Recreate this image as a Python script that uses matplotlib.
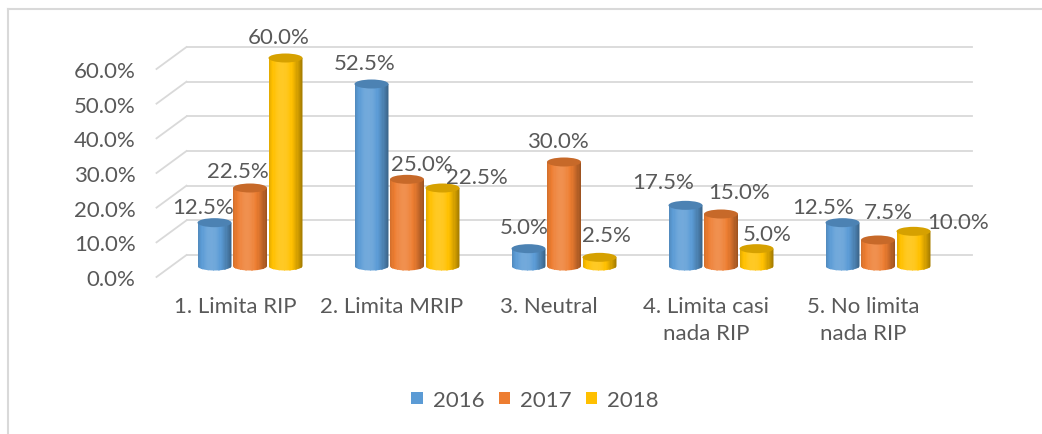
import numpy as np
import matplotlib
matplotlib.use("Agg")
import matplotlib.pyplot as plt
from matplotlib.patches import Rectangle, Ellipse, PathPatch, Patch
from matplotlib.path import Path
from matplotlib.lines import Line2D

# data (percent)
categories = ["1. Limita RIP", "2. Limita MRIP", "3. Neutral",
              "4. Limita casi\nnada RIP", "5. No limita\nnada RIP"]
years = ["2016", "2017", "2018"]
v2016 = [12.5, 52.5, 5.0, 17.5, 12.5]
v2017 = [22.5, 25.0, 30.0, 15.0, 7.5]
v2018 = [60.0, 22.5, 2.5, 5.0, 10.0]
series = [v2016, v2017, v2018]
yticks = [0, 10, 20, 30, 40, 50, 60]

colors = ["#5B9BD5", "#ED7D31", "#FFC000"]
text_col = "#595959"
grid_col = "#d9d9d9"

# label nudges in pixels (dx right, dy up) from the top of each cylinder
label_dx = [[-11.5, -6.5, -4.5, -22.5, -19.5],
            [-12, 15, -6, 18, 10],
            [-6.5, 34.5, 6.5, 10.5, 44.5]]
label_dy = [[16, 21, 22, 23, 16],
            [17, 15, 21, 22, 28],
            [21, 11, 22, 15, 9]]

plt.rcParams['font.family'] = ['Lato', 'DejaVu Sans']
FS = 16

W, H = 1042, 435
fig = plt.figure(figsize=(W / 100, H / 100), dpi=100)
fig.patch.set_facecolor("white")

PPX = 157.0          # pixels per category
PPY = 208.0 / 60.0   # pixels per percent


def px_axes(left, top, right, bottom):
  ax = fig.add_axes([left / W, 1 - bottom / H, (right - left) / W, (bottom - top) / H])
  ax.set_xlim(-0.5, 4.5)
  ax.set_ylim(0, 60)
  ax.patch.set_alpha(0)
  for s in ax.spines.values():
    s.set_visible(False)
  return ax


FL, FT, FR, FB = 156.5, 70, 941.5, 278
ax_back = px_axes(FL + 30, FT - 22, FR + 30, FB - 22)
ax_bar = px_axes(FL + 15, FT - 11, FR + 15, FB - 11)
ax_front = px_axes(FL, FT, FR, FB)

# back wall gridlines
ax_back.set_xticks([])
ax_back.set_yticks([])
for t in yticks:
  ax_back.plot([-0.5, 4.5], [t, t], color=grid_col, lw=1.3, clip_on=False)
# side wall diagonals
for t in yticks:
  ax_front.plot([-0.5, -0.5 + 30 / PPX], [t, t + 22 / PPY], color=grid_col, lw=1.3, clip_on=False)


def shade(c, t):
  rgb = np.array(matplotlib.colors.to_rgb(c))
  s = 0.70 + 0.42 * np.cos((t - 0.4) * np.pi * 0.9)
  if s <= 1:
    out = rgb * s
  else:
    out = rgb + (1 - rgb) * (s - 1) * 1.2
  return np.clip(out, 0, 1)


bw = 34 / PPX
step = 35.5 / PPX
eh = 9 / PPY
nstrip = 28
for j, vals in enumerate(series):
  for i, v in enumerate(vals):
    xc = i + (j - 1) * step
    x0, x1 = xc - bw / 2, xc + bw / 2
    th = np.linspace(np.pi, 2 * np.pi, 40)
    verts = [(x0, v), (x0, 0)] + list(zip(xc + bw / 2 * np.cos(th), eh / 2 * np.sin(th))) + [(x1, v), (x0, v)]
    codes = [Path.MOVETO] + [Path.LINETO] * (len(verts) - 2) + [Path.CLOSEPOLY]
    cyl = PathPatch(Path(verts, codes), transform=ax_bar.transData)
    for k in range(nstrip):
      t = (k + 0.5) / nstrip
      r = Rectangle((x0 + k * bw / nstrip, -eh), bw / nstrip * 1.3, v + eh,
                    facecolor=shade(colors[j], t), edgecolor="none", zorder=2 + i)
      r.set_clip_path(cyl)
      ax_bar.add_patch(r)
    top_col = np.array(matplotlib.colors.to_rgb(colors[j])) * 0.84
    top = Ellipse((xc, v), bw, eh, facecolor=top_col, edgecolor="none",
                  zorder=2.5 + i, clip_on=False)
    ax_bar.add_patch(top)
    ax_bar.annotate(f"{v:.1f}%", (xc, v), xytext=(label_dx[j][i], label_dy[j][i]),
                    textcoords="offset pixels", ha="center", va="center",
                    fontsize=FS, color=text_col, zorder=10, annotation_clip=False)
ax_bar.set_xticks([])
ax_bar.set_yticks([])

# front axis labels
ax_front.set_yticks(yticks)
ax_front.set_yticklabels([f"{t:.1f}%" for t in yticks])
ax_front.set_xticks(range(len(categories)))
ax_front.set_xticklabels(categories, linespacing=1.4)
ax_front.tick_params(axis="y", length=0, pad=15, labelsize=FS, labelcolor=text_col)
ax_front.tick_params(axis="x", length=0, pad=14, labelsize=FS, labelcolor=text_col)

handles = [Patch(facecolor=c, edgecolor="none", label=y) for c, y in zip(colors, years)]
fig.legend(handles=handles, loc="center", bbox_to_anchor=(535 / W, 1 - 401 / H), ncol=3,
           frameon=False, fontsize=FS, handlelength=0.5, handleheight=0.5,
           handletextpad=0.45, columnspacing=0.65, labelcolor=text_col)

# chart frame (top and left edges visible)
fig.add_artist(Line2D([7.5 / W, 1], [1 - 9.5 / H, 1 - 9.5 / H], color=grid_col, lw=1.5))
fig.add_artist(Line2D([7.5 / W, 7.5 / W], [0, 1 - 9.5 / H], color=grid_col, lw=1.5))

fig.savefig("out.png", dpi=100)
